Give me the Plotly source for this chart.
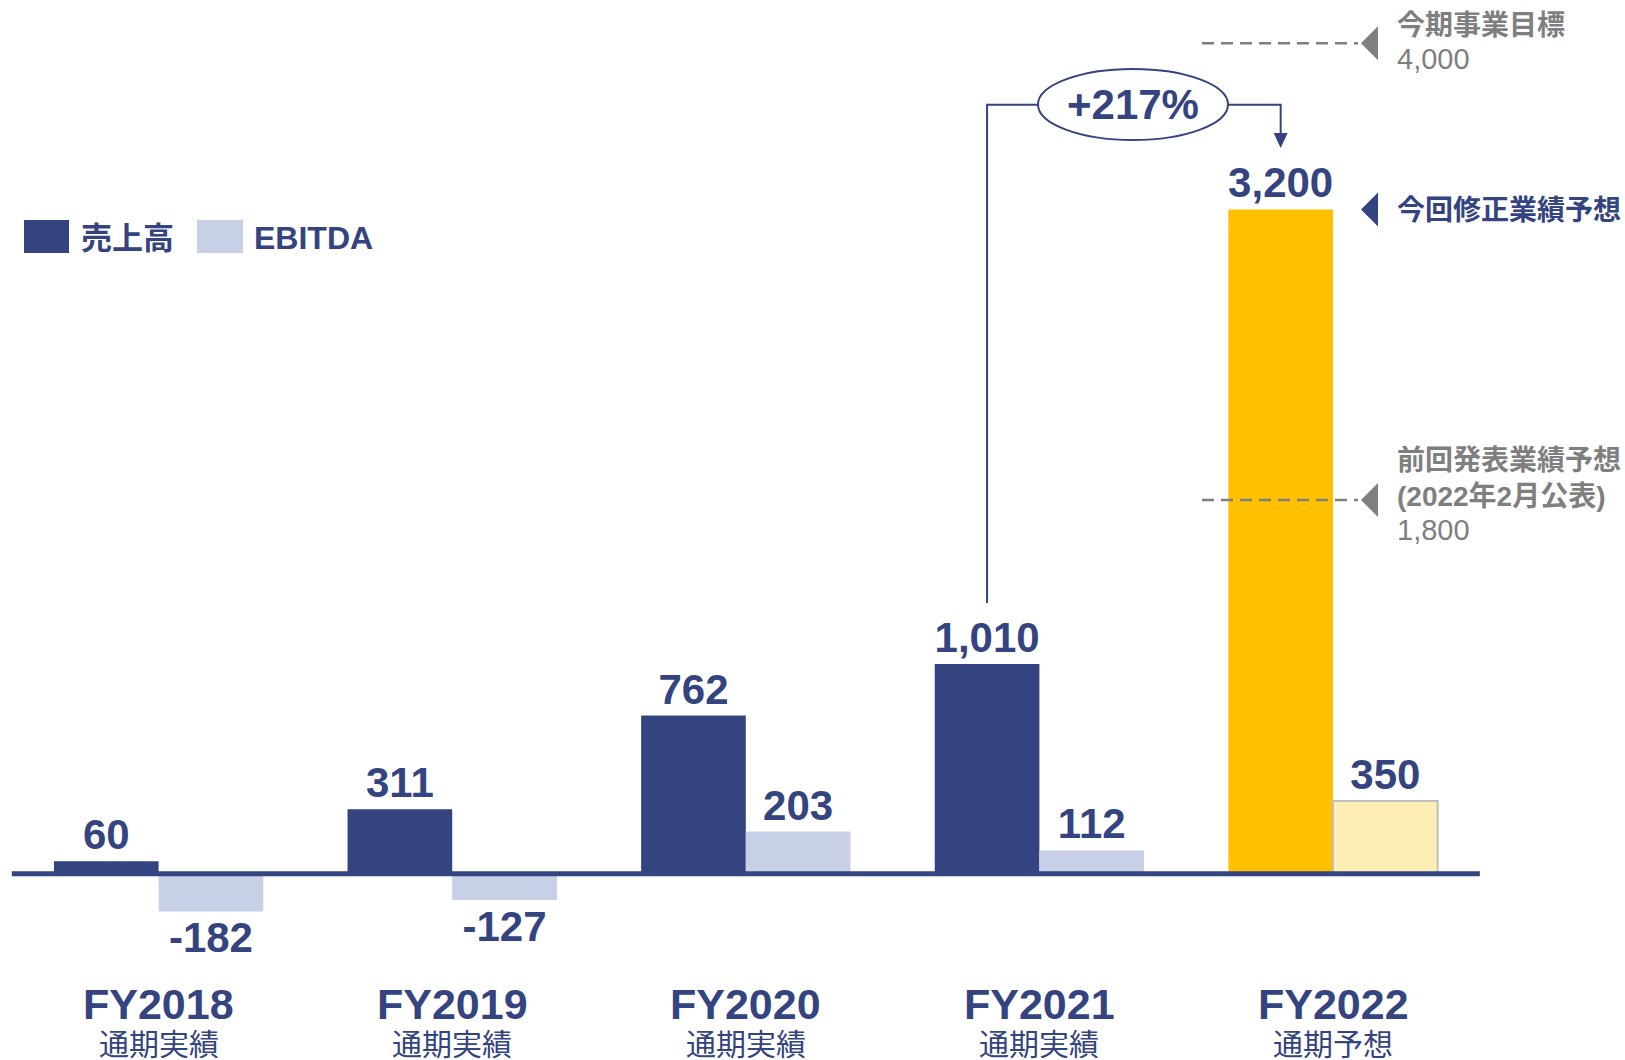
import plotly.graph_objects as go

# ---------------- data ----------------
categories = ["FY2018", "FY2019", "FY2020", "FY2021", "FY2022"]
sublabels = ["通期実績", "通期実績", "通期実績", "通期実績", "通期予想"]
sales = [60, 311, 762, 1010, 3200]
ebitda = [-182, -127, 203, 112, 350]
target_value = 4000          # 今期事業目標
prev_forecast = 1800         # 前回発表業績予想
growth_label = "+217%"
legend_names = ["売上高", "EBITDA"]

# ---------------- styles ----------------
W, H = 1625, 1060
NAVY = "#334480"
LIGHT = "#C8D0E8"
YELLOW = "#FFC000"
LYELLOW = "#FFEDB6"
GRAY = "#7F7F7F"
FONT = "Liberation Sans, Arial, Noto Sans CJK JP, sans-serif"

PX_PER_UNIT = 0.2076
BASE_PX = 873.7
Y_MAX = BASE_PX / PX_PER_UNIT
Y_MIN = -(H - BASE_PX) / PX_PER_UNIT
CAT_PX = 293.6
X0_PX = 158.6
X_MIN = -X0_PX / CAT_PX
X_MAX = (W - X0_PX) / CAT_PX
BARGAP = 0.287
HALF = (1 - BARGAP) / 4  # offset of each bar centre from category centre


def px(x):
    return x / W


def py(y):
    return 1 - y / H


def unit_from_py(y):
    return (BASE_PX - y) / PX_PER_UNIT


xs = list(range(len(categories)))
n = len(categories)

fig = go.Figure()
fig.add_trace(go.Bar(
    x=xs, y=sales, name=legend_names[0],
    marker=dict(color=[NAVY] * (n - 1) + [YELLOW], line=dict(width=0)),
    text=[f"<b>{v:,}</b>" for v in sales], textposition="outside",
    textfont=dict(size=42, color=NAVY, family=FONT), constraintext="none",
    cliponaxis=False, showlegend=False, hoverinfo="skip",
))
fig.add_trace(go.Bar(
    x=xs, y=ebitda, name=legend_names[1],
    marker=dict(color=[LIGHT] * (n - 1) + [LYELLOW],
                line=dict(color=["rgba(0,0,0,0)"] * (n - 1) + ["#BFBFBF"],
                          width=[0] * (n - 1) + [2])),
    text=[f"<b>{v:,}</b>" for v in ebitda], textposition="outside",
    textfont=dict(size=42, color=NAVY, family=FONT), constraintext="none",
    cliponaxis=False, showlegend=False, hoverinfo="skip",
))

shapes = []
annotations = []

# baseline
shapes.append(dict(type="line", xref="x", yref="y", x0=-0.5, x1=4.5, y0=0, y1=0,
                   line=dict(color=NAVY, width=5), layer="above"))

# category labels
for i, (c, s) in enumerate(zip(categories, sublabels)):
    annotations.append(dict(x=i, y=py(1004), xref="x", yref="paper", text=f"<b>{c}</b>",
                            showarrow=False, font=dict(size=43, color=NAVY, family=FONT),
                            xanchor="center", yanchor="middle"))
    annotations.append(dict(x=i, y=py(1044), xref="x", yref="paper", text=s,
                            showarrow=False, font=dict(size=30, color=NAVY, family=FONT),
                            xanchor="center", yanchor="middle"))

# legend
shapes.append(dict(type="rect", xref="paper", yref="paper", x0=px(24), x1=px(69),
                   y0=py(253), y1=py(220), fillcolor=NAVY, line=dict(width=0)))
shapes.append(dict(type="rect", xref="paper", yref="paper", x0=px(197), x1=px(243),
                   y0=py(253), y1=py(220), fillcolor=LIGHT, line=dict(width=0)))
annotations.append(dict(x=px(79), y=py(238), xref="paper", yref="paper",
                        text=f"<b>{legend_names[0]}</b>", showarrow=False,
                        font=dict(size=31, color=NAVY, family=FONT), xanchor="left", yanchor="middle"))
annotations.append(dict(x=px(252), y=py(238), xref="paper", yref="paper",
                        text=f"<b>{legend_names[1]}</b>", showarrow=False,
                        font=dict(size=32, color=NAVY, family=FONT), xanchor="left", yanchor="middle"))

# growth connector
x_from = 3 - HALF
x_to = 4 - HALF
y_line = unit_from_py(104.7)
y_start = unit_from_py(603)
y_tip = unit_from_py(148)
ell_x0 = (1038 - X0_PX) / CAT_PX
ell_x1 = (1228 - X0_PX) / CAT_PX
shapes.append(dict(type="path", xref="x", yref="y",
                   path=f"M {x_from},{y_start} L {x_from},{y_line} L {ell_x0},{y_line}",
                   line=dict(color=NAVY, width=2)))
shapes.append(dict(type="path", xref="x", yref="y",
                   path=f"M {ell_x1},{y_line} L {x_to},{y_line} L {x_to},{y_tip + 60}",
                   line=dict(color=NAVY, width=2)))
shapes.append(dict(type="path", xref="x", yref="y", xsizemode="pixel", ysizemode="pixel",
                   xanchor=x_to, yanchor=y_tip, path="M 0,0 L -7,15 L 7,15 Z",
                   fillcolor=NAVY, line=dict(width=0)))
shapes.append(dict(type="circle", xref="x", yref="y", x0=ell_x0, x1=ell_x1,
                   y0=unit_from_py(140), y1=unit_from_py(69),
                   fillcolor="white", line=dict(color=NAVY, width=2)))
annotations.append(dict(x=(ell_x0 + ell_x1) / 2, y=y_line, xref="x", yref="y",
                        text=f"<b>{growth_label}</b>", showarrow=False,
                        font=dict(size=42, color=NAVY, family=FONT), xanchor="center", yanchor="middle"))

# right side reference markers
dash_x0 = (1202 - X0_PX) / CAT_PX
dash_x1 = (1358 - X0_PX) / CAT_PX
tri_x = (1361 - X0_PX) / CAT_PX
for val in (target_value, prev_forecast):
    shapes.append(dict(type="line", xref="x", yref="y", x0=dash_x0, x1=dash_x1, y0=val, y1=val,
                       line=dict(color=GRAY, width=2.5, dash="12px,7px"), layer="above"))
    shapes.append(dict(type="path", xref="x", yref="y", xsizemode="pixel", ysizemode="pixel",
                       xanchor=tri_x, yanchor=val, path="M 0,0 L 17,17 L 17,-17 Z",
                       fillcolor=GRAY, line=dict(width=0)))
shapes.append(dict(type="path", xref="x", yref="y", xsizemode="pixel", ysizemode="pixel",
                   xanchor=tri_x, yanchor=sales[-1], path="M 0,0 L 17,17 L 17,-17 Z",
                   fillcolor=NAVY, line=dict(width=0)))

TX = px(1395)
right_texts = [
    ("<b>今期事業目標</b>", 26, GRAY, 28),
    (f"{target_value:,}", 59, GRAY, 29),
    ("<b>今回修正業績予想</b>", 210, NAVY, 28),
    ("<b>前回発表業績予想</b>", 460, GRAY, 28),
    ("<b>(2022年2月公表)</b>", 496, GRAY, 28),
    (f"{prev_forecast:,}", 530, GRAY, 29),
]
for t, yy, col, sz in right_texts:
    annotations.append(dict(x=TX, y=py(yy), xref="paper", yref="paper", text=t, showarrow=False,
                            font=dict(size=sz, color=col, family=FONT), xanchor="left", yanchor="middle"))

fig.update_layout(
    width=W, height=H,
    margin=dict(l=0, r=0, t=0, b=0),
    plot_bgcolor="white", paper_bgcolor="white",
    barmode="group", bargap=BARGAP, bargroupgap=0,
    xaxis=dict(range=[X_MIN, X_MAX], visible=False, showgrid=False, zeroline=False),
    yaxis=dict(range=[Y_MIN, Y_MAX], visible=False, showgrid=False, zeroline=False),
    shapes=shapes, annotations=annotations,
    font=dict(family=FONT),
    hovermode=False,
)

fig.write_html("out.html", config={"displayModeBar": False},
               post_script="document.body.style.margin='0';")
